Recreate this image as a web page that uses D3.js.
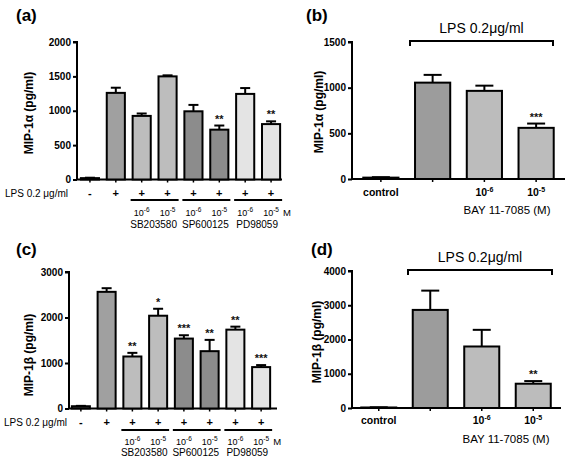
<!DOCTYPE html>
<html><head><meta charset="utf-8">
<script src="https://cdn.jsdelivr.net/npm/d3@7"></script>
<style>body{margin:0;background:#fff}svg{display:block;font-family:"Liberation Sans",Arial,sans-serif}</style>
</head><body><svg id="chart" width="567" height="465"></svg>
<script>
// ---- data ----
const inhibitorCategories = ["control","LPS","SB 1e-6","SB 1e-5","SP 1e-6","SP 1e-5","PD 1e-6","PD 1e-5"];
const aValues = [20,1260,925,1500,992,725,1245,806];
const aErrors = [6,75,35,15,93,60,85,40];
const aStars  = ["","","","","","**","","**"];
const cValues = [50,2564,1143,2039,1537,1260,1733,910];
const cErrors = [8,80,80,153,73,248,66,44];
const cStars  = ["","","**","*","***","**","**","***"];
const bayCategories = ["control","LPS","1e-6","1e-5"];
const bValues = [15,1055,965,560];
const bErrors = [5,85,57,47];
const bStars  = ["","","","***"];
const dValues = [15,2864,1796,709];
const dErrors = [5,563,486,77];
const dStars  = ["","","","**"];
const lpsSigns = ["-","+","+","+","+","+","+","+"];
const drugNames = ["SB203580","SP600125","PD98059"];
const doseExps = ["-6","-5"];
const bayTickLabels = ["control","","-6","-5"];
const aTicks = [0,500,1000,1500,2000];
const bTicks = [0,500,1000,1500];
const cTicks = [0,1000,2000,3000];
const dTicks = [0,1000,2000,3000,4000];
const inhibitorFills = ["#555555","#a0a0a0","#bdbdbd","#bdbdbd","#8c8c8c","#8c8c8c","#e4e4e4","#e4e4e4"];
const bayFills = ["#555555","#9c9c9c","#bcbcbc","#bcbcbc"];

const svg = d3.select("#chart");

function drawPanel(o){
  const g = svg.append("g");
  const x = d3.scaleBand().domain(o.cats).range(o.xr).paddingInner(o.pad).paddingOuter(o.pad/2);
  const y = d3.scaleLinear().domain([0,o.max]).range(o.yr);
  // y axis
  const ya = g.append("g").attr("transform",`translate(${o.yAxisX},0)`)
    .call(d3.axisLeft(y).tickValues(o.ticks).tickSize(4).tickPadding(2).tickFormat(d3.format("d")));
  ya.select(".domain").attr("stroke","#000").attr("stroke-width",2).attr("d",`M-4,${o.yr[1]}H0V${o.yr[0]}`);
  ya.selectAll(".tick line").attr("stroke","#000").attr("stroke-width",2);
  ya.selectAll(".tick text").attr("fill","#000").attr("font-size",10).attr("font-weight","bold")
    .attr("font-family","Liberation Sans, Arial, sans-serif");
  // x axis
  const xa = g.append("g").attr("transform",`translate(0,${o.yr[0]})`)
    .call(d3.axisBottom(x).tickSize(3).tickFormat(""));
  xa.select(".domain").attr("stroke","#000").attr("stroke-width",2).attr("d",`M${o.yAxisX},0H${o.xEnd}`);
  xa.selectAll(".tick line").attr("stroke","#000").attr("stroke-width",1.5);
  // bars
  const bw = x.bandwidth();
  o.vals.forEach((v,i)=>{
    const cx = x(o.cats[i]) + bw/2;
    const top = y(v + o.errs[i]);
    g.append("line").attr("x1",cx).attr("x2",cx).attr("y1",y(v)).attr("y2",top)
      .attr("stroke","#000").attr("stroke-width",2);
    g.append("line").attr("x1",cx-o.cap/2).attr("x2",cx+o.cap/2).attr("y1",top).attr("y2",top)
      .attr("stroke","#000").attr("stroke-width",2);
    g.append("rect").attr("x",x(o.cats[i])).attr("y",y(v)).attr("width",bw)
      .attr("height",Math.max(0,y(0)-y(v))).attr("fill",o.fills[i])
      .attr("stroke","#000").attr("stroke-width",2);
    if(o.stars[i]) g.append("text").attr("x",cx).attr("y",top-3).attr("text-anchor","middle")
      .attr("font-size",11).attr("font-weight","bold").attr("fill","#111").text(o.stars[i]);
  });
  // y title
  g.append("text").attr("transform",`translate(${o.titleX},${o.titleY}) rotate(-90)`)
    .attr("text-anchor","middle").attr("font-size",12).attr("font-weight","bold").text(o.title);
  // panel label
  g.append("text").attr("x",o.labelX).attr("y",o.labelY).attr("font-size",17).attr("font-weight","bold").text(o.label);
  return {g,x,y,bw};
}

function inhibitorRows(p, o){
  const {g,x,bw} = p;
  const c = i => x(inhibitorCategories[i]) + bw/2;
  g.append("text").attr("x",o.lpsX).attr("y",o.signY).attr("font-size",10).text("LPS 0.2 \u03bcg/ml");
  lpsSigns.forEach((s,i)=>{
    g.append("text").attr("x",c(i)).attr("y",o.signY).attr("text-anchor","middle")
      .attr("font-size",11).attr("font-weight","bold").text(s);
  });
  drugNames.forEach((name,k)=>{
    const i0 = 2+2*k, i1 = 3+2*k;
    g.append("line").attr("x1",x(inhibitorCategories[i0])-2).attr("x2",x(inhibitorCategories[i1])+bw+2)
      .attr("y1",o.brY).attr("y2",o.brY).attr("stroke","#000").attr("stroke-width",2);
    doseExps.forEach((e,j)=>{
      const t = g.append("text").attr("x",c(i0+j)).attr("y",o.expY).attr("text-anchor","middle").attr("font-size",9);
      t.append("tspan").text("10");
      t.append("tspan").attr("dy",-4).attr("font-size",6.5).text(e);
    });
    g.append("text").attr("x",(c(i0)+c(i1))/2-1).attr("y",o.nameY).attr("text-anchor","middle")
      .attr("font-size",10).text(name);
  });
  g.append("text").attr("x",c(7)+12).attr("y",o.expY).attr("font-size",9.5).text("M");
}

function bayRows(p, o){
  const {g,x,bw} = p;
  const c = i => x(bayCategories[i]) + bw/2;
  bayTickLabels.forEach((l,i)=>{
    if(!l) return;
    const t = g.append("text").attr("x",c(i)).attr("y",o.tickY).attr("text-anchor","middle")
      .attr("font-size",10.5).attr("font-weight","bold");
    if(l==="control") t.text(l);
    else { t.append("tspan").text("10"); t.append("tspan").attr("dy",-4).attr("font-size",7).text(l); }
  });
  g.append("text").attr("x",o.bayX).attr("y",o.bayY).attr("text-anchor","middle").attr("font-size",11.5)
    .text("BAY 11-7085 (M)");
  g.append("path").attr("d",`M${o.brX0},${o.brY+5}V${o.brY}H${o.brX1}V${o.brY+5}`)
    .attr("fill","none").attr("stroke","#000").attr("stroke-width",2);
  g.append("text").attr("x",(o.brX0+o.brX1)/2).attr("y",o.brY-8).attr("text-anchor","middle")
    .attr("font-size",14).text("LPS 0.2\u03bcg/ml");
}

// (a)
const pa = drawPanel({cats:inhibitorCategories, xr:[77,284], pad:0.3, yr:[179.5,42], max:2000, ticks:aTicks,
  yAxisX:77, xEnd:282, vals:aValues, errs:aErrors, stars:aStars, fills:inhibitorFills, cap:10,
  title:"MIP-1\u03b1 (pg/ml)", titleX:33, titleY:113, label:"(a)", labelX:16, labelY:21});
inhibitorRows(pa,{lpsX:5, signY:197, brY:200, expY:216, nameY:228});

// (c)
const pc = drawPanel({cats:inhibitorCategories, xr:[68,274], pad:0.3, yr:[408.5,272], max:3000, ticks:cTicks,
  yAxisX:69, xEnd:277, vals:cValues, errs:cErrors, stars:cStars, fills:inhibitorFills, cap:10,
  title:"MIP-1\u03b2 (pg/ml)", titleX:33, titleY:355, label:"(c)", labelX:16, labelY:255});
inhibitorRows(pc,{lpsX:4, signY:426, brY:430, expY:445, nameY:456});

// (b)
const pb = drawPanel({cats:bayCategories, xr:[355,562], pad:0.32, yr:[179,42], max:1500, ticks:bTicks,
  yAxisX:352, xEnd:565, vals:bValues, errs:bErrors, stars:bStars, fills:bayFills, cap:18,
  title:"MIP-1\u03b1 (pg/ml)", titleX:323, titleY:112, label:"(b)", labelX:306, labelY:21});
bayRows(pb,{tickY:196, bayX:507, bayY:214, brX0:410, brX1:553, brY:41});

// (d)
const pd = drawPanel({cats:bayCategories, xr:[353,559], pad:0.32, yr:[408,271], max:4000, ticks:dTicks,
  yAxisX:352, xEnd:561, vals:dValues, errs:dErrors, stars:dStars, fills:bayFills, cap:18,
  title:"MIP-1\u03b2 (pg/ml)", titleX:321, titleY:342, label:"(d)", labelX:311, labelY:255});
bayRows(pd,{tickY:424, bayX:506, bayY:443, brX0:408, brX1:552, brY:270});
</script></body></html>
